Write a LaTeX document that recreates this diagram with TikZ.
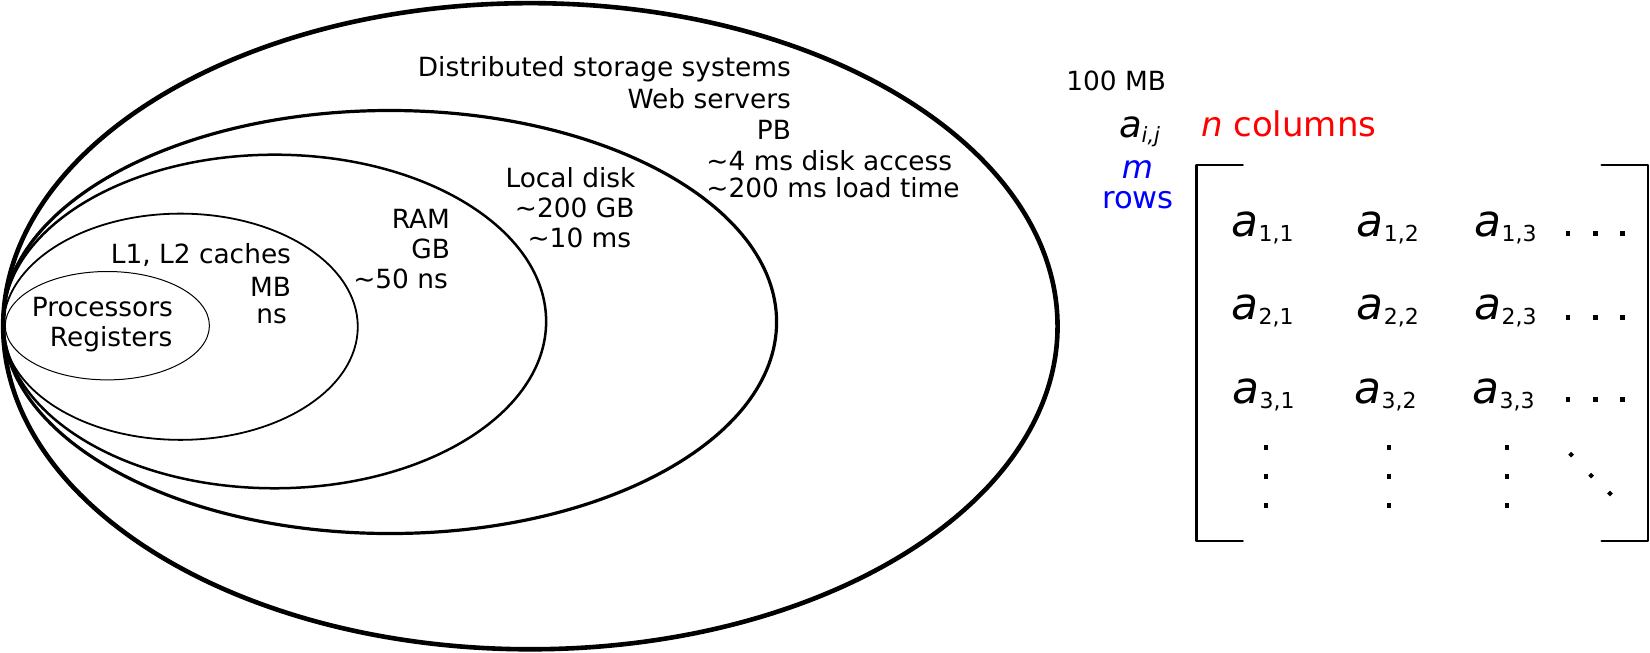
\documentclass[tikz,border=0pt]{standalone}
\usepackage{fontspec}
\setmainfont{DejaVu Sans}
\newcommand{\tld}{\textasciitilde}
\newcommand{\entry}[1]{{\fontsize{22}{22}\selectfont\itshape a}\raisebox{-2.5pt}{\fontsize{11}{11}\selectfont #1}}
\begin{document}
\begin{tikzpicture}[x=0.52615pt, y=-0.52615pt, line join=round, line cap=round,
    font=\fontsize{13.2}{15}\selectfont,
    lbl/.style={inner sep=0pt, anchor=base east},
    lblw/.style={inner sep=0pt, anchor=base west},
    ent/.style={inner sep=0pt, anchor=base west},
    dotmark/.style={fill=black, minimum size=2.4pt, inner sep=0pt}]
    \useasboundingbox (0,0) rectangle (1568,619.6);
    %\draw[red] (0,0) rectangle (1568,619.6);
    % nested storage levels
    \draw[line width=2.3pt] (504,310) ellipse (501 and 307);
    \draw[line width=1.6pt] (370.5,306) ellipse (367.5 and 201);
    \draw[line width=1.25pt] (261,305.5) ellipse (258 and 158.5);
    \draw[line width=0.9pt] (171.5,310.5) ellipse (168.5 and 107.5);
    \draw[line width=0.5pt] (102,309.5) ellipse (97 and 51.5);

    \node[lbl] (dss) at (752,73) {Distributed storage systems};
    \node[lbl] (web) at (752,103) {Web servers};
    \node[lbl] (pb) at (752,133) {PB};
    \node[lblw] (dacc) at (671,162) {\tld4 ms disk access};
    \node[lblw] (load) at (671,188) {\tld200 ms load time};
    \node[lblw] (disk) at (480,178) {Local disk};
    \node[lblw] (dgb) at (489,207) {\tld200 GB};
    \node[lblw] (dms) at (501,235) {\tld10 ms};
    \node[lbl] (ram) at (428,217) {RAM};
    \node[lbl] (rgb) at (428,246) {GB};
    \node[lbl] (rns) at (426,274) {\tld50 ns};
    \node[lblw] (cache) at (105,250) {L1, L2 caches};
    \node[lbl] (cmb) at (277,282) {MB};
    \node[lbl] (cns) at (273,307) {ns};
    \node[lblw] (proc) at (30,301) {Processors};
    \node[lblw] (reg) at (47,329) {Registers};

    % matrix
    \node[lblw] (hmb) at (1013,86) {100 MB};
    \node[lblw] (aij) at (1063,131) {{\fontsize{18.5}{19}\selectfont\itshape a}\raisebox{-2.5pt}{\fontsize{10.5}{11}\selectfont\itshape i,j}};
    \node[lblw, text=red] (ncol) at (1141,130) {\fontsize{17}{17}\selectfont\textit{n} columns};
    \node[inner sep=0pt, anchor=base, text=blue] (mm) at (1081,170) {\fontsize{16}{16}\selectfont\textit{m}};
    \node[lblw, text=blue] (rows) at (1047,198) {\fontsize{15.3}{16}\selectfont rows};

    \draw[line width=1.2pt] (1181,157) -- (1137,157) -- (1137,514) -- (1181,514);
    \draw[line width=1.2pt] (1522,157) -- (1566,157) -- (1566,514) -- (1522,514);

    \node[ent] (a11) at (1170,225) {\entry{1,1}};
    \node[ent] (a12) at (1289,225) {\entry{1,2}};
    \node[ent] (a13) at (1401,225) {\entry{1,3}};
    \node[ent] (a21) at (1170,304) {\entry{2,1}};
    \node[ent] (a22) at (1289,304) {\entry{2,2}};
    \node[ent] (a23) at (1401,304) {\entry{2,3}};
    \node[ent] (a31) at (1171,383) {\entry{3,1}};
    \node[ent] (a32) at (1287,383) {\entry{3,2}};
    \node[ent] (a33) at (1399,383) {\entry{3,3}};

    \foreach \y in {222,302,380}
        \foreach \x in {1490,1516,1542}
            \node[dotmark] at (\x,\y) {};
    \foreach \x in {1203,1320,1432}
        \foreach \y in {425,453,480}
            \node[dotmark] at (\x,\y) {};
    \node[dotmark, rotate=45, minimum size=2pt] at (1493,432) {};
    \node[dotmark, rotate=45, minimum size=2pt] at (1512,452) {};
    \node[dotmark, rotate=45, minimum size=2pt] at (1530,469) {};
\end{tikzpicture}
\end{document}
